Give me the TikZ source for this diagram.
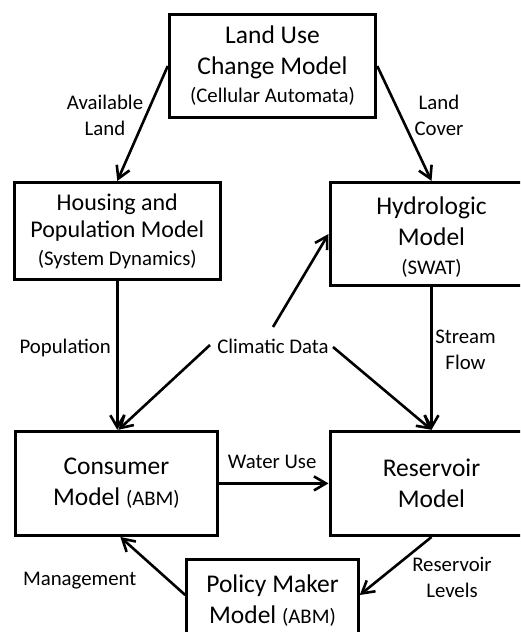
\documentclass[tikz,border=0pt]{standalone}
\usepackage{fontspec}
\setmainfont{Carlito}
\usetikzlibrary{arrows.meta,calc}
\newcommand\subt[1]{{\fontsize{20.8}{25}\selectfont #1}}
\begin{document}
\begin{tikzpicture}[x=1pt,y=-1pt,
  box/.style={draw, line width=3pt, rectangle, inner sep=0pt, align=center, font=\fontsize{25.5}{31}\selectfont},
  lbl/.style={align=center, inner sep=0pt, font=\fontsize{20.8}{25.5}\selectfont},
  arr/.style={line width=2.6pt, -{Straight Barb[length=12pt,width=14pt]}}]
\useasboundingbox (0,0) rectangle (520,632);
\clip (0,0) rectangle (520,632);
% boxes
\node[box, minimum width=206.5pt, minimum height=102.5pt] (luc) at (272.5,66) {Land Use\\Change Model\\[-3pt]\subt{(Cellular Automata)}};
\node[box, minimum width=206.3pt, minimum height=97.5pt, font=\fontsize{24}{27}\selectfont] (hp) at (117.3,231.2) {Housing and\\Population Model\\[1pt]\subt{(System Dynamics)}};
\node[box, minimum width=203pt, minimum height=103.2pt] (hyd) at (431.5,234) {\rule{0pt}{24pt}Hydrologic\\Model\\[-2pt]\subt{(SWAT)}};
\node[box, minimum width=202.2pt, minimum height=104.2pt] (con) at (116.4,483.4) {Consumer\\Model \subt{(ABM)}};
\node[box, minimum width=203pt, minimum height=104.2pt] (res) at (431.5,483.4) {Reservoir\\Model};
\node[box, minimum width=171.6pt, minimum height=84pt] (pol) at (272.5,601) {Policy Maker\\Model \subt{(ABM)}};
% labels (anchor base = baseline of last line)
\node[lbl, anchor=base] (l1) at (105,135) {Available\\Land};
\node[lbl, anchor=base] (l2) at (439,135) {Land\\Cover};
\node[lbl, anchor=base] (l3) at (65.2,353.3) {Population};
\node[lbl, anchor=base] (clim) at (273,353) {Climatic Data};
\node[lbl, anchor=base] (l4) at (465.5,369.3) {Stream\\Flow};
\node[lbl, anchor=base] (l5) at (272.2,468.3) {Water Use};
\node[lbl, anchor=base] (l6) at (79.7,585) {Management};
\node[lbl, anchor=base] (l7) at (452,597.3) {Reservoir\\Levels};
% climatic data starts
\coordinate (cu) at ($(clim.base)+(0,-26)$);
\coordinate (cl) at ($(clim.base)+(-63,-8)$);
\coordinate (cr) at ($(clim.base)+(60,-6)$);
% arrows
\draw[arr] (luc.west) -- (hp.north);
\draw[arr] (luc.east) -- (hyd.north);
\draw[arr] (hp.south) -- (hp.south |- con.north);
\draw[arr] (hyd.south) -- (hyd.south |- res.north);
\draw[arr] (con.east) -- (res.west);
\draw[arr] (res.south) -- ([yshift=6pt]pol.east);
\draw[arr] ([yshift=6pt]pol.west) -- ([xshift=4pt]con.south);
\draw[arr] (cu) -- (hyd.west);
\draw[arr] (cl) -- ([xshift=2pt]con.north);
\draw[arr] (cr) -- (res.north);
\end{tikzpicture}
\end{document}
